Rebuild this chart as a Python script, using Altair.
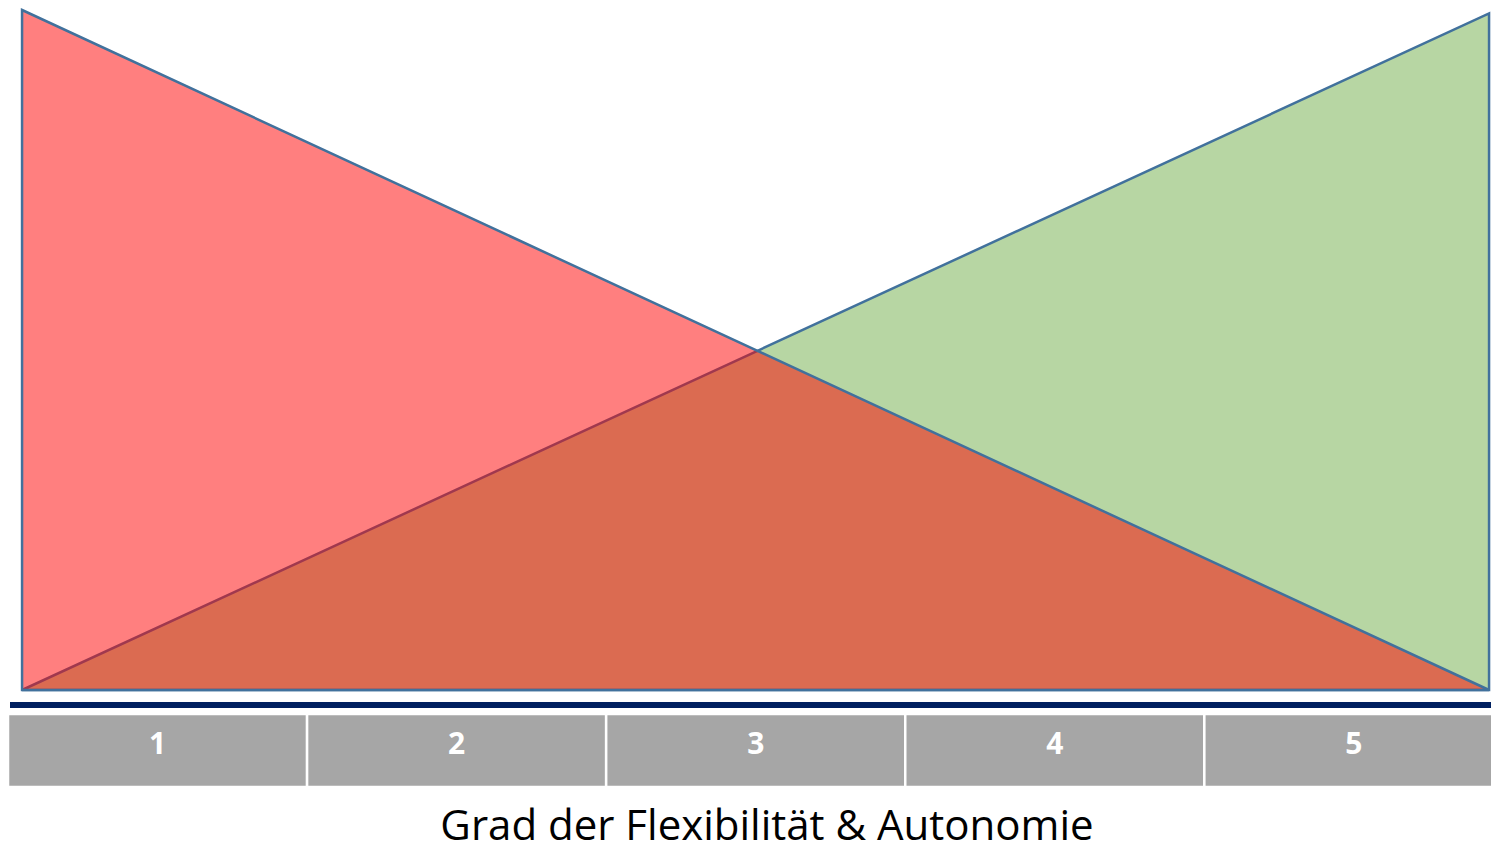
import altair as alt
import pandas as pd

# ---- data ----
levels = [1, 2, 3, 4, 5]
level_labels = ["1", "2", "3", "4", "5"]
tri_x = [0.547, 5.452]          # left / right edge of the triangles (in level units)
red_y = [100, 0]                # red: high at the left, zero at the right
green_y = [0, 99.5]             # green: zero at the left, high at the right
title_text = "Grad der Flexibilität & Autonomie"

W, H = 1483, 840
STROKE = "#41719C"
FONT = "Open Sans"

xs = alt.Scale(domain=[0.5, 5.4585], nice=False, zero=False)
ys = alt.Scale(domain=[0, 100], range=[682, 2], nice=False, zero=False)

red_df = pd.DataFrame({"x": tri_x, "y": red_y})
green_df = pd.DataFrame({"x": tri_x, "y": green_y})
lv_df = pd.DataFrame({"level": levels, "label": level_labels})
one = pd.DataFrame({"k": [0]})

green = alt.Chart(green_df).mark_area(
    fill="#70AD47", fillOpacity=0.5, stroke=STROKE, strokeWidth=2.5,
    strokeJoin="miter", interpolate="linear"
).encode(
    x=alt.X("x:Q", scale=xs, axis=None),
    y=alt.Y("y:Q", scale=ys, axis=None, stack=None),
    y2=alt.datum(0),
)

red = alt.Chart(red_df).mark_area(
    fill="#FF0000", fillOpacity=0.5, stroke=STROKE, strokeWidth=2.5,
    strokeJoin="miter", interpolate="linear"
).encode(
    x=alt.X("x:Q", scale=xs, axis=None),
    y=alt.Y("y:Q", scale=ys, axis=None, stack=None),
    y2=alt.datum(0),
)

navy = alt.Chart(one).mark_rule(color="#002060", strokeWidth=6).encode(
    x=alt.value(2), x2=alt.value(W), y=alt.value(697)
)

boxes = alt.Chart(lv_df).transform_calculate(
    lo="datum.level - 0.5", hi="datum.level + 0.5"
).mark_rect(fill="#A6A6A6", stroke="white", strokeWidth=2.5, clip=True).encode(
    x=alt.X("lo:Q", scale=xs, axis=None),
    x2="hi:Q",
    y=alt.value(706),
    y2=alt.value(779),
)

labels = alt.Chart(lv_df).mark_text(
    font=FONT, fontWeight="bold", fontSize=30, color="white", baseline="middle", align="center"
).encode(
    x=alt.X("level:Q", scale=xs, axis=None),
    y=alt.value(737),
    text="label:N",
)

title = alt.Chart(one).mark_text(
    text=title_text, font=FONT, fontSize=42, color="black",
    baseline="alphabetic", align="center"
).encode(x=alt.value(759), y=alt.value(832))

chart = alt.layer(green, red, boxes, navy, labels, title).properties(
    width=W, height=H, padding=0,
    autosize=alt.AutoSizeParams(type="none"),
).configure_view(stroke=None)

chart.save("out.html", embed_options={"renderer": "svg", "actions": False})
